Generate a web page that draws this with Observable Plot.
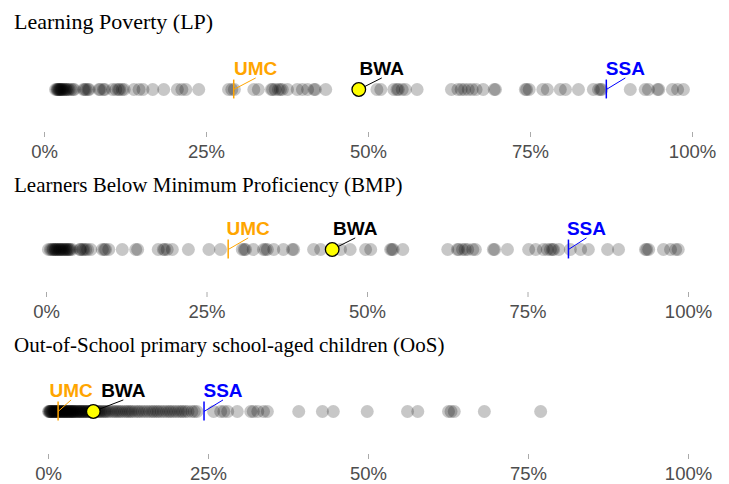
<!DOCTYPE html>
<html><head><meta charset="utf-8">
<script src="https://cdn.jsdelivr.net/npm/d3@7"></script>
<script src="https://cdn.jsdelivr.net/npm/@observablehq/plot@0.6"></script>
<style>
body{margin:0;background:#fff;}
#wrap{position:relative;width:729px;height:484px;overflow:hidden;background:#fff;}
.title{position:absolute;left:14px;font-family:"Liberation Serif","Times New Roman",serif;font-size:21px;line-height:24px;color:#000;white-space:nowrap;}
.panel{position:absolute;left:0;}
</style></head><body><div id="wrap"></div>
<script>
const titles = [
  "Learning Poverty (LP)",
  "Learners Below Minimum Proficiency (BMP)",
  "Out-of-School primary school-aged children (OoS)"
];
const groups = ["UMC", "BWA", "SSA"];
const groupColors = ["#FFA500", "#000000", "#0000FF"];

const lpValues = [1.7, 1.9, 2.0, 2.1, 2.2, 2.3, 2.4, 2.5, 2.6, 2.7, 2.8, 3.0, 3.1, 3.3, 3.4, 3.6, 3.8, 4.1, 4.4, 4.6,
  6.0, 6.2, 6.4, 6.7, 6.9, 8.4, 8.6, 9.1, 9.3, 10.5, 11.0, 11.4, 11.6, 12.0, 12.3, 13.8, 14.6, 15.2, 16.7, 18.4, 20.5, 21.2, 21.8, 23.8,
  28.4, 28.9, 29.3, 32.3, 33.0, 35.0, 35.2, 35.6, 36.1, 36.4, 36.7, 37.5, 39.0, 39.8, 40.6, 41.6, 41.8, 43.4, 48.5,
  51.3, 51.9, 53.9, 54.4, 54.6, 55.2, 55.7, 57.5, 62.8, 63.8, 64.3, 64.8, 65.4, 66.0, 66.6, 67.7, 69.4, 69.6,
  74.2, 74.4, 74.8, 76.9, 77.6, 79.6, 80.4, 82.4, 84.7, 85.5, 85.8, 86.0, 90.4, 92.7, 93.2, 94.6, 94.8, 96.9, 97.7, 98.6];
const lpMarkers = [29.2, 48.5, 86.7];

const bmpValues = [0.3, 0.6, 0.8, 1.0, 1.1, 1.3, 1.4, 1.5, 1.7, 1.8, 2.0, 2.1, 2.2, 2.4, 2.5, 2.7, 2.8, 3.0, 3.1, 3.3, 3.4, 3.6, 3.7, 4.0,
  5.2, 5.3, 5.6, 5.8, 6.1, 6.4, 6.9, 8.7, 9.0, 9.2, 9.7, 11.8, 13.9, 14.2,
  17.4, 18.2, 18.4, 18.8, 19.6, 22.1, 25.3, 27.1, 30.5, 30.8, 31.0, 32.2, 33.8, 34.1, 34.4, 35.4, 36.9, 38.3, 38.5, 41.6, 42.7, 44.5, 45.8, 47.3,
  49.7, 50.5, 53.6, 53.8, 54.0, 55.5, 62.5, 64.0, 64.2, 64.8, 65.2, 65.6, 66.4, 66.8, 69.6, 69.8, 71.8, 75.1, 76.2, 77.4, 78.0, 78.5, 78.8, 79.0, 79.8,
  81.6, 83.2, 84.4, 87.4, 89.1, 93.3, 93.5, 93.8, 96.1, 97.2, 98.0, 98.4];
const bmpMarkers = [28.3, 44.5, 81.3];

const oosValues = [0.0, 0.1, 0.2, 0.3, 0.3, 0.4, 0.5, 0.6, 0.7, 0.8, 0.9, 1.0, 1.0, 1.1, 1.2, 1.3, 1.4, 1.5, 1.6, 1.7, 1.8, 1.9, 2.0, 2.1, 2.2,
  2.3, 2.4, 2.5, 2.6, 2.7, 2.8, 2.9, 3.0, 3.1, 3.2, 3.3, 3.4, 3.5, 3.6, 3.7, 3.8, 3.9, 4.0, 4.1, 4.2, 4.4, 4.5, 4.6, 4.7, 4.9,
  5.0, 5.1, 5.2, 5.4, 5.5, 5.6, 5.8, 5.9, 6.0, 6.2, 6.3, 6.5, 6.6, 6.8, 7.0, 7.1, 7.3, 7.5, 7.7, 7.9, 8.1, 8.3, 8.6, 8.8, 9.0,
  9.3, 9.6, 10.0, 10.3, 10.6, 10.9, 11.2, 11.5, 11.9, 12.2, 12.5, 12.8, 13.1, 13.5, 13.9, 14.2, 14.6, 15.0, 15.4, 15.8, 16.2, 16.5,
  16.9, 17.2, 17.6, 18.0, 18.4, 18.8, 19.1, 19.5, 19.9, 20.3, 20.7, 21.0, 21.4, 21.8, 22.4, 22.8, 23.2,
  25.8, 26.9, 27.4, 28.0, 29.5, 31.6, 32.0, 32.7, 33.6, 34.2, 39.1, 42.8, 44.5, 49.8, 56.1, 57.7, 62.5, 62.9, 63.4, 68.1, 76.9];
const oosMarkers = [1.5, 7.0, 24.3];

const tickValues = [0, 25, 50, 75, 100];
const tickLabels = ["0%", "25%", "50%", "75%", "100%"];

const panels = [
  {values: lpValues, markers: lpMarkers, titleTop: 10, svgTop: 40, xRange: [44, 692], offsets: [22, 23, 19], titleSize: 22},
  {values: bmpValues, markers: bmpMarkers, titleTop: 173, svgTop: 200, xRange: [46, 688], offsets: [20, 23, 18], titleSize: 21},
  {values: oosValues, markers: oosMarkers, titleTop: 333, svgTop: 362, xRange: [48, 688], offsets: [13, 30, 19], titleSize: 21}
];

const sans = "'Liberation Sans', Arial, Helvetica, sans-serif";
const wrap = document.getElementById("wrap");

panels.forEach((cfg, k) => {
  const t = document.createElement("div");
  t.className = "title";
  t.style.top = cfg.titleTop + "px";
  t.style.fontSize = cfg.titleSize + "px";
  t.textContent = titles[k];
  wrap.appendChild(t);

  const pxPer = (cfg.xRange[1] - cfg.xRange[0]) / 100;
  const refs = groups.map((g, i) => ({group: g, color: groupColors[i], value: cfg.markers[i], lx: cfg.markers[i] + cfg.offsets[i] / pxPer}));
  const dots = cfg.values.map(v => ({v}));

  const chart = Plot.plot({
    width: 729, height: 120,
    marginTop: 0, marginBottom: 28, marginLeft: 0, marginRight: 0,
    x: {domain: [0, 100], range: cfg.xRange},
    y: {domain: [0, 1], range: [49, 28], axis: null},
    color: {type: "identity"},
    style: {background: "transparent", overflow: "visible", fontFamily: sans},
    marks: [
      Plot.dot(dots, {x: "v", y: () => 0, r: 6.5, fill: "black", fillOpacity: 0.22, stroke: null}),
      Plot.ruleX(refs.filter(d => d.group !== "BWA"), {x: "value", y1: () => -0.45, y2: () => 0.45, stroke: "color", strokeWidth: 1.5}),
      Plot.link(refs, {x1: "value", y1: () => 0, x2: "lx", y2: () => 0.55, stroke: "color", strokeWidth: 1}),
      Plot.dot(refs.filter(d => d.group === "BWA"), {x: "value", y: () => 0, r: 6.8, fill: "#FFFF00", stroke: "black", strokeWidth: 1.3}),
      Plot.text(refs, {x: "lx", y: () => 1, text: "group", fill: "color", fontSize: 19, fontWeight: "bold", fontFamily: sans}),
      Plot.axisX({ticks: tickValues, tickFormat: (d) => tickLabels[tickValues.indexOf(d)], tickSize: 5, tickPadding: 7, fontSize: 18.5, fill: "#4d4d4d", stroke: "#aaaaaa", label: null, fontFamily: sans})
    ]
  });
  chart.classList.add("panel");
  chart.style.top = cfg.svgTop + "px";
  wrap.appendChild(chart);
});
</script>
</body></html>
